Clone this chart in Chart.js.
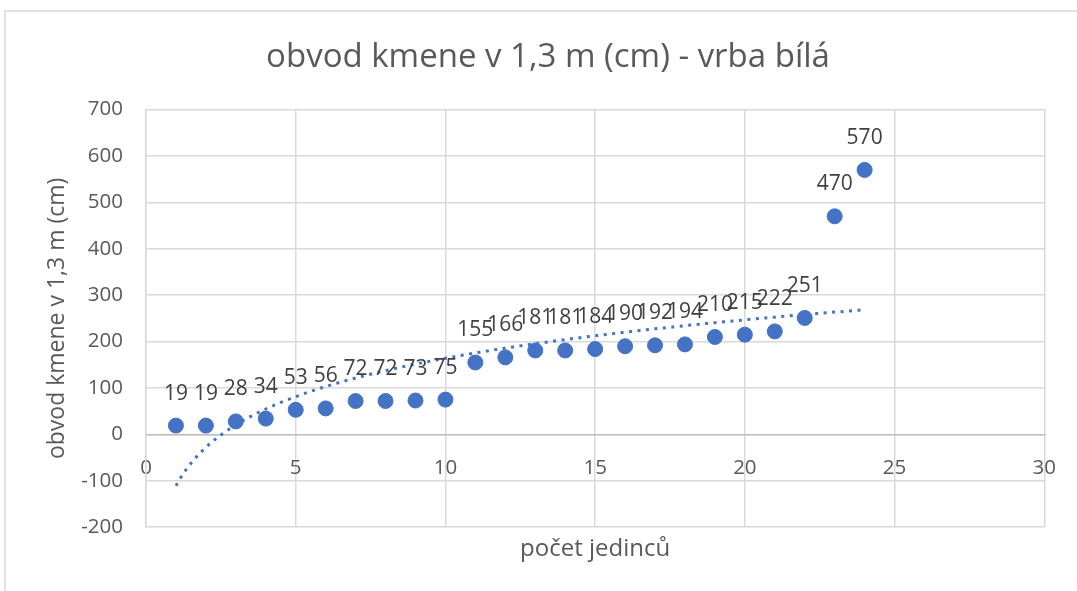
<!DOCTYPE html>
<html>
<head>
<meta charset="utf-8">
<script src="https://cdn.jsdelivr.net/npm/chart.js@4/dist/chart.umd.min.js"></script>
<style>
  body { margin: 0; background: #fff; }
</style>
</head>
<body>
<canvas id="chart" width="1077" height="591"></canvas>
<script>
'use strict';

var chartTitle = 'obvod kmene v 1,3 m (cm) - vrba bílá';
var xTitle = 'počet jedinců';
var yTitle = 'obvod kmene v 1,3 m (cm)';

var individuals = [1, 2, 3, 4, 5, 6, 7, 8, 9, 10, 11, 12, 13, 14, 15, 16, 17, 18, 19, 20, 21, 22, 23, 24];
var girth = [19, 19, 28, 34, 53, 56, 72, 72, 73, 75, 155, 166, 181, 181, 184, 190, 192, 194, 210, 215, 222, 251, 470, 570];

var xTicks = [0, 5, 10, 15, 20, 25, 30];
var yTicks = [-200, -100, 0, 100, 200, 300, 400, 500, 600, 700];

var blue = '#4472C4';

// points for the scatter
var points = [];
for (var i = 0; i < individuals.length; i++) {
  points.push({x: individuals[i], y: girth[i]});
}

// logarithmic trendline (least squares on ln x), like Excel does
var sl = 0, sy = 0, sll = 0, sly = 0, n = individuals.length;
for (var i = 0; i < n; i++) {
  var l = Math.log(individuals[i]);
  sl += l; sy += girth[i]; sll += l * l; sly += l * girth[i];
}
var b = (n * sly - sl * sy) / (n * sll - sl * sl);
var a = (sy - b * sl) / n;
var trend = [];
for (var x = individuals[0]; x <= individuals[n - 1] + 0.001; x += 0.1) {
  trend.push({x: x, y: a + b * Math.log(x)});
}

var frame = {
  id: 'frame',
  beforeDraw: function(chart) {
    var c = chart.ctx;
    c.save();
    c.fillStyle = '#fff';
    c.fillRect(0, 0, chart.width, chart.height);
    c.strokeStyle = '#d9d9d9';
    c.lineWidth = 1.5;
    c.strokeRect(5, 11, chart.width + 20, chart.height + 20);
    c.restore();
  }
};

var valueLabels = {
  id: 'valueLabels',
  afterDatasetsDraw: function(chart) {
    var c = chart.ctx;
    var meta = chart.getDatasetMeta(0);
    c.save();
    c.font = '21px "Open Sans"';
    c.fillStyle = '#404040';
    c.textAlign = 'center';
    c.textBaseline = 'middle';
    meta.data.forEach(function(el, idx) {
      c.fillText(String(girth[idx]), el.x, el.y - 32);
    });
    c.restore();
  }
};

var ctx = document.getElementById('chart').getContext('2d');

var chart = new Chart(ctx, {
  type: 'scatter',
  data: {
    datasets: [
      {
        label: 'obvod',
        data: points,
        backgroundColor: blue,
        borderColor: blue,
        pointRadius: 7.5,
        pointHoverRadius: 7.5,
        order: 1
      },
      {
        label: 'trend',
        data: trend,
        type: 'line',
        showLine: true,
        borderColor: blue,
        borderWidth: 3,
        borderDash: [3, 5.5],
        pointRadius: 0,
        fill: false,
        order: 0
      }
    ]
  },
  options: {
    responsive: false,
    animation: false,
    layout: {
      padding: {left: 19, right: 0, top: 0, bottom: 0}
    },
    plugins: {
      legend: {display: false},
      tooltip: {enabled: false},
      title: {
        display: true,
        text: chartTitle,
        color: '#595959',
        font: {family: 'Open Sans', size: 33, weight: 'normal'},
        padding: {top: 38, bottom: 32}
      },
      subtitle: {
        display: true,
        text: xTitle,
        position: 'bottom',
        fullSize: false,
        color: '#595959',
        font: {family: 'Open Sans', size: 24, weight: 'normal'},
        padding: {top: 8, bottom: 27}
      }
    },
    scales: {
      x: {
        type: 'linear',
        position: {y: 0},
        min: 0,
        max: 30,
        afterBuildTicks: function(scale) {
          scale.ticks = xTicks.map(function(v) { return {value: v}; });
        },
        grid: {color: '#d9d9d9', lineWidth: 1.5, drawTicks: false},
        border: {color: '#bfbfbf', width: 1.5},
        ticks: {
          color: '#595959',
          padding: 21,
          font: {family: 'Open Sans', size: 20.5}
        }
      },
      y: {
        type: 'linear',
        min: -200,
        max: 700,
        afterBuildTicks: function(scale) {
          scale.ticks = yTicks.map(function(v) { return {value: v}; });
        },
        afterFit: function(scale) {
          scale.width = 127;
        },
        grid: {color: '#d9d9d9', lineWidth: 1.5, drawTicks: false},
        border: {color: '#d9d9d9', width: 1.5},
        title: {
          display: true,
          text: yTitle,
          color: '#595959',
          font: {family: 'Open Sans', size: 23, weight: 'normal'},
          padding: {top: 25, bottom: 0}
        },
        ticks: {
          color: '#595959',
          padding: 23,
          font: {family: 'Open Sans', size: 20.5}
        }
      },
      // empty spacer on the right so the plot ends where the original does
      spacer: {
        axis: 'y',
        type: 'linear',
        position: 'right',
        min: 0,
        max: 1,
        grid: {display: false},
        border: {display: false},
        ticks: {display: false},
        afterFit: function(scale) {
          scale.width = 29;
        }
      }
    }
  },
  plugins: [frame, valueLabels]
});
</script>
</body>
</html>
